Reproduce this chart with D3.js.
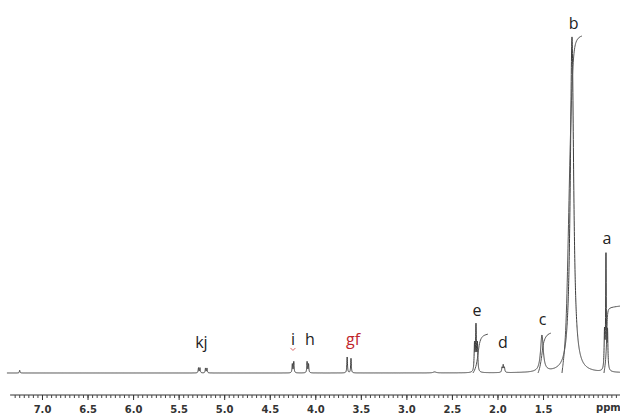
<!DOCTYPE html>
<html>
<head>
<meta charset="utf-8">
<script src="https://cdn.jsdelivr.net/npm/d3@7/dist/d3.min.js"></script>
<style>
  html, body { margin: 0; padding: 0; background: #fff; }
  svg { display: block; }
</style>
</head>
<body>
<svg id="chart" width="620" height="414"></svg>
<script>
// ---- data ----
// peak lines: chemical shift (ppm), height (% of tallest), half width (ppm)
const peakPpm    = [7.245, 5.282, 5.266, 5.205, 5.189, 4.252, 4.236, 4.090, 4.074, 3.650, 3.608, 2.690, 2.252, 2.236, 2.220, 1.950, 1.937, 1.924, 1.512, 1.182, 0.825, 0.809, 0.792];
const peakHeight = [0.8,   1.5,   1.5,   1.4,   1.4,   2.6,   3.3,   3.3,   2.6,   4.7,   4.3,   0.3,   8.0,   13.3,  8.0,   1.4,   2.1,   1.4,   10.8,  99.4,  11.0,  33.4,  11.0];
const peakWidth  = [0.004, 0.004, 0.004, 0.004, 0.004, 0.004, 0.004, 0.004, 0.004, 0.004, 0.004, 0.02,  0.005, 0.005, 0.005, 0.005, 0.005, 0.005, 0.018, 0.022, 0.005, 0.004, 0.005];

// integral traces, points [ppm, height]
const integralE = [[2.269,0],[2.236,1.5],[2.214,5.3],[2.203,8.3],[2.181,10.4],[2.148,11.2],[2.104,11.5]];
const integralC = [[1.555,0],[1.534,1.5],[1.512,5.3],[1.501,8.3],[1.479,10.4],[1.446,11.5],[1.413,11.8]];
const integralB = [[1.292,0],[1.248,9.8],[1.226,36.4],[1.204,66.0],[1.182,86.7],[1.160,95.6],[1.138,98.2],[1.105,99.4],[1.072,99.7]];
const integralA = [[0.831,0],[0.809,3.9],[0.798,12.7],[0.793,18.0],[0.776,19.2],[0.733,19.5],[0.656,19.8]];

// peak labels
const labelText  = ["b", "a", "e", "d", "c", "kj", "i", "h", "gf"];
const labelPpm   = [1.165, 0.798, 2.225, 1.940, 1.505, 5.250, 4.245, 4.060, 3.585];
const labelValue = [101.8, 38.2, 17.0, 7.4, 14.2, 7.4, 8.3, 8.3, 8.3];
const labelColor = ["#222", "#222", "#222", "#222", "#222", "#222", "#222", "#222", "#c0262c"];

// axis ticks
const majorTicks = [7.0, 6.5, 6.0, 5.5, 5.0, 4.5, 4.0, 3.5, 3.0, 2.5, 2.0, 1.5];
const axisTitle = "ppm";

// ---- drawing ----
const svg = d3.select("#chart");
const x = d3.scaleLinear().domain([7.461, 0.655]).range([0, 620]);
const y = d3.scaleLinear().domain([0, 100]).range([373, 35]);

// spectrum trace from peak list
const startPpm = 7.385, endPpm = 0.655, step = 0.0008;
const trace = [];
for (let p = startPpm; p >= endPpm; p -= step) {
  let v = 0;
  for (let i = 0; i < peakPpm.length; i++) {
    const d = (p - peakPpm[i]) / peakWidth[i];
    v += peakHeight[i] / (1 + d * d);
  }
  trace.push([p, v]);
}
const line = d3.line().x(d => x(d[0])).y(d => y(d[1]));
svg.append("path").datum(trace)
  .attr("d", line)
  .attr("fill", "none")
  .attr("stroke", "#3c3c3c")
  .attr("stroke-width", 1);

const iline = d3.line().x(d => x(d[0])).y(d => y(d[1])).curve(d3.curveBasis);
[integralE, integralC, integralB, integralA].forEach(pts => {
  svg.append("path").datum(pts)
    .attr("d", iline)
    .attr("fill", "none")
    .attr("stroke", "#555")
    .attr("stroke-width", 1);
});

// labels
svg.selectAll("text.lbl").data(labelText).enter().append("text")
  .attr("class", "lbl")
  .attr("x", (d, i) => x(labelPpm[i]))
  .attr("y", (d, i) => y(labelValue[i]))
  .attr("text-anchor", "middle")
  .attr("font-family", "'Open Sans', 'Liberation Sans', sans-serif")
  .attr("font-size", 16)
  .attr("fill", (d, i) => labelColor[i])
  .text(d => d);

// small red mark under "i"
const ix = x(labelPpm[6]), iy = y(labelValue[6]) + 3;
svg.append("path")
  .attr("d", `M${ix - 2.5},${iy} L${ix},${iy + 2.5} L${ix + 2.5},${iy}`)
  .attr("fill", "none").attr("stroke", "#d04040").attr("stroke-width", 0.8);

// axis
const axisY = 395;
const gAxis = svg.append("g").attr("transform", `translate(0,${axisY})`);
const minorTicks = d3.range(146, 12, -1).map(v => v / 20);
gAxis.append("line")
  .attr("x1", x(7.35)).attr("x2", 620)
  .attr("stroke", "#333").attr("stroke-width", 1);
gAxis.append("g")
  .call(d3.axisBottom(x).tickValues(minorTicks).tickSize(3).tickFormat(""))
  .call(g => g.select(".domain").remove())
  .call(g => g.selectAll("line").attr("stroke", "#444"));
gAxis.append("g")
  .call(d3.axisBottom(x).tickValues(majorTicks).tickSize(5).tickPadding(6).tickFormat(d3.format(".1f")))
  .call(g => g.select(".domain").remove())
  .call(g => g.selectAll("line").attr("stroke", "#333"))
  .call(g => g.selectAll("text")
    .attr("font-family", "'DejaVu Sans', sans-serif")
    .attr("font-weight", "bold")
    .attr("font-size", 10)
    .attr("fill", "#333"));
svg.append("text")
  .attr("x", 596).attr("y", 410.5)
  .attr("font-family", "'DejaVu Sans', sans-serif")
  .attr("font-weight", "bold")
  .attr("font-size", 10)
  .attr("fill", "#333")
  .text(axisTitle);
</script>
</body>
</html>
